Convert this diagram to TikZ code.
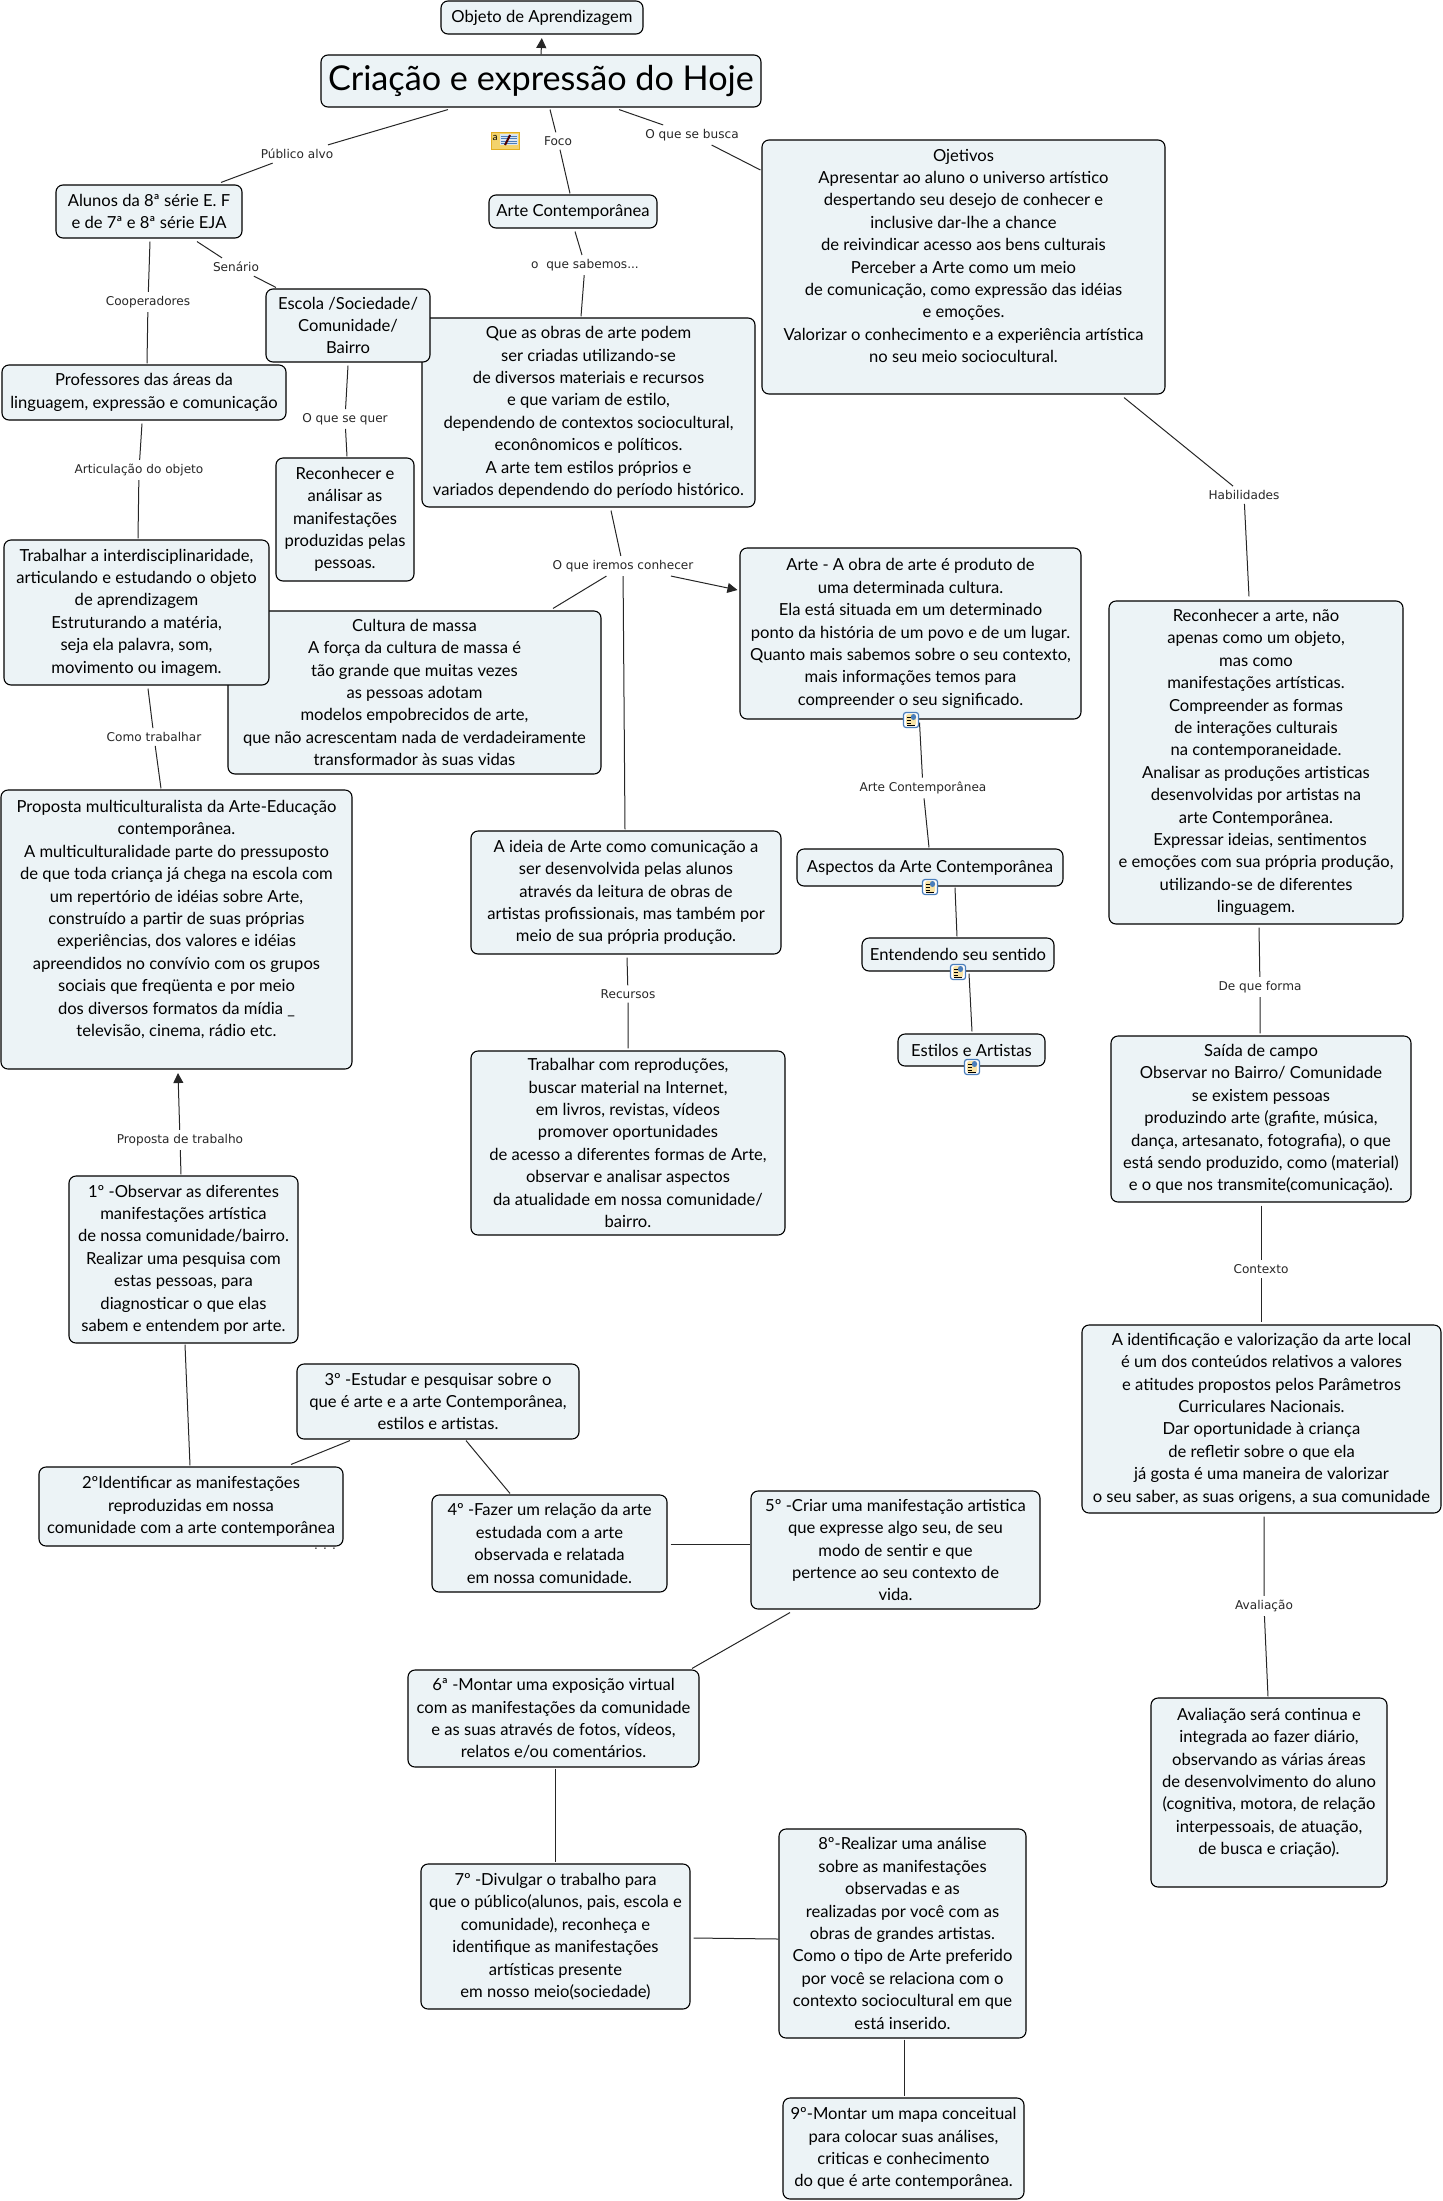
\documentclass[tikz,border=0pt]{standalone}
\usepackage{fontspec}
\setmainfont{Lato}
\newfontfamily\labelfont{DejaVu Sans}
\usepackage{xcolor}
\definecolor{boxfill}{HTML}{ECF3F6}
\definecolor{linegrey}{HTML}{262626}
\definecolor{iconblue}{HTML}{4A7EBB}
\definecolor{iconyellow}{HTML}{F3D36B}
\definecolor{icongold}{HTML}{E2AE22}
\usetikzlibrary{arrows.meta,positioning}

\begin{document}
\begin{tikzpicture}[
  x=1pt, y=-1pt,
  box/.style={draw=black, fill=boxfill, line width=1.1pt, rounded corners=7pt, align=center,
    inner sep=0pt, font=\fontsize{16.6}{22.4}\selectfont},
  lbl/.style={font=\labelfont\fontsize{12.1}{14}\selectfont, text=black!85, inner sep=2.5pt, inner ysep=4pt},
  lnk/.style={draw=linegrey, line width=1pt},
  arr/.style={lnk, -{Triangle[length=10pt, width=10pt]}},
  attach/.style={draw=iconblue, fill=white, line width=1.2pt, rounded corners=2.5pt,
    minimum width=15pt, minimum height=15pt, inner sep=0pt,
    path picture={
      \fill[iconyellow!60] ([shift={(-5,-6)}]path picture bounding box.center) rectangle ++(10,12);
      \foreach \k in {-3,0,3} {
        \draw[black, line width=0.9pt] ([shift={(-4,\k)}]path picture bounding box.center) -- ++(3.5,0);
      }
      \draw[black, line width=0.9pt] ([shift={(-4,5)}]path picture bounding box.center) -- ++(8,0);
      \fill[iconblue] ([shift={(0,-6)}]path picture bounding box.center) rectangle ++(5,6);
    }},
  note/.style={draw=icongold, fill=iconyellow, line width=1pt, minimum width=28pt, minimum height=17pt, inner sep=0pt,
    path picture={
      \fill[white!80!iconblue] ([shift={(-5,-7)}]path picture bounding box.center) rectangle ++(18,11);
      \foreach \k in {-5,-2.5,0,2.5} {
        \draw[iconblue, line width=0.7pt] ([shift={(-4,\k)}]path picture bounding box.center) -- ++(16,0);
      }
      \draw[black!70!red, line width=2pt] ([shift={(0,4)}]path picture bounding box.center) -- ++(5,-10);
    }}
]
\useasboundingbox (0,0) rectangle (1443,2201);

% Top of the map
\node[box, minimum width=202pt, minimum height=33pt] (objeto) at (542,17.5) {Objeto de Aprendizagem};
\node[box, minimum width=440pt, minimum height=52pt, font=\fontsize{34.2}{40}\selectfont] (titulo) at (541,81) {Criação e expressão do Hoje};
\node[note] (nota) at (505,141) {};
\node[font=\fontsize{10}{10}\selectfont, inner sep=0pt] (notaletra) at (495,138) {a};
\draw[arr, shorten >=3.5pt] (titulo.north) -- (objeto.south);

% Left column
\node[box, minimum width=186pt, minimum height=53pt] (alunos) at (149,211.5) {Alunos da 8ª série E. F\\e de 7ª e 8ª série EJA};
\node[box, minimum width=284pt, minimum height=55pt] (professores) at (144,392.5) {Professores das áreas da\\linguagem, expressão e comunicação};
\node[box, minimum width=333pt, minimum height=189pt] (obras) at (588.5,412.5) {Que as obras de arte podem\\ser criadas utilizando-se\\de diversos materiais e recursos\\e que variam de estilo,\\dependendo de contextos sociocultural,\\econônomicos e políticos.\\A arte tem estilos próprios e\\variados dependendo do período histórico.};
\node[box, minimum width=164pt, minimum height=73pt] (escola) at (348,325.5) {Escola /Sociedade/\\Comunidade/\\Bairro};
\node[box, minimum width=138pt, minimum height=123pt] (reconhecer) at (345,519.5) {Reconhecer e\\análisar as\\manifestações\\produzidas pelas\\pessoas.};
\node[box, minimum width=373pt, minimum height=163pt] (cultura) at (414.5,692.5) {Cultura de massa\\A força da cultura de massa é\\tão grande que muitas vezes\\as pessoas adotam\\modelos empobrecidos de arte,\\que não acrescentam nada de verdadeiramente\\transformador às suas vidas};
\node[box, minimum width=265pt, minimum height=145pt] (interdisc) at (136.5,612.5) {Trabalhar a interdisciplinaridade,\\articulando e estudando o objeto\\de aprendizagem\\Estruturando a matéria,\\seja ela palavra, som,\\movimento ou imagem.};
\node[box, minimum width=351pt, minimum height=279pt] (proposta) at (176.5,929.5) {Proposta multiculturalista da Arte-Educação\\contemporânea.\\A multiculturalidade parte do pressuposto\\de que toda criança já chega na escola com\\um repertório de idéias sobre Arte,\\construído a partir de suas próprias\\experiências, dos valores e idéias\\apreendidos no convívio com os grupos\\sociais que freqüenta e por meio\\dos diversos formatos da mídia \_\\televisão, cinema, rádio etc.\\\mbox{}};

% Middle and right columns
\node[box, minimum width=168pt, minimum height=33pt] (artecont) at (573,211.5) {Arte Contemporânea};
\node[box, minimum width=403pt, minimum height=254pt] (ojetivos) at (963.5,267) {Ojetivos\\Apresentar ao aluno o universo artístico\\despertando seu desejo de conhecer e\\inclusive dar-lhe a chance\\de reivindicar acesso aos bens culturais\\Perceber a Arte como um meio\\de comunicação, como expressão das idéias\\e emoções.\\Valorizar o conhecimento e a experiência artística\\no seu meio sociocultural.\\\mbox{}};
\node[box, minimum width=310pt, minimum height=123pt] (ideia) at (626,892.5) {A ideia de Arte como comunicação a\\ser desenvolvida pelas alunos\\através da leitura de obras de\\artistas profissionais, mas também por\\meio de sua própria produção.};
\node[box, minimum width=314pt, minimum height=184pt] (reproducoes) at (628,1143) {Trabalhar com reproduções,\\buscar material na Internet,\\em livros, revistas, vídeos\\promover oportunidades\\de acesso a diferentes formas de Arte,\\observar e analisar aspectos\\da atualidade em nossa comunidade/\\bairro.};
\node[box, minimum width=341pt, minimum height=171pt] (obra) at (910.5,633.5) {Arte - A obra de arte é produto de\\uma determinada cultura.\\Ela está situada em um determinado\\ponto da história de um povo e de um lugar.\\Quanto mais sabemos sobre o seu contexto,\\mais informações temos para\\compreender o seu significado.};
\node[box, minimum width=266pt, minimum height=37pt] (aspectos) at (930,867.5) {Aspectos da Arte Contemporânea};
\node[box, minimum width=192pt, minimum height=33pt] (sentido) at (958,954.5) {Entendendo seu sentido};
\node[box, minimum width=147pt, minimum height=32pt] (estilos) at (971.5,1050) {Estilos e Artistas};
\node[box, minimum width=294pt, minimum height=323pt] (habil) at (1256,762.5) {Reconhecer a arte, não\\apenas como um objeto,\\mas como\\manifestações artísticas.\\Compreender as formas\\de interações culturais\\na contemporaneidade.\\Analisar as produções artisticas\\desenvolvidas por artistas na\\arte Contemporânea.\\\hspace*{8pt}Expressar ideias, sentimentos\\e emoções com sua própria produção,\\utilizando-se de diferentes\\linguagem.};
\node[box, minimum width=300pt, minimum height=166pt] (saida) at (1261,1119) {Saída de campo\\Observar no Bairro/ Comunidade\\se existem pessoas\\produzindo arte (grafite, música,\\dança, artesanato, fotografia), o que\\está sendo produzido, como (material)\\e o que nos transmite(comunicação).};
\node[box, minimum width=359pt, minimum height=188pt] (identif) at (1261.5,1419) {A identificação e valorização da arte local\\é um dos conteúdos relativos a valores\\e atitudes propostos pelos Parâmetros\\Curriculares Nacionais.\\Dar oportunidade à criança\\de refletir sobre o que ela\\já gosta é uma maneira de valorizar\\o seu saber, as suas origens, a sua comunidade};
\node[box, minimum width=236pt, minimum height=189pt] (avalia) at (1269,1792.5) {Avaliação será continua e\\integrada ao fazer diário,\\observando as várias áreas\\de desenvolvimento do aluno\\(cognitiva, motora, de relação\\interpessoais, de atuação,\\de busca e criação).\\\mbox{}};

% Numbered steps
\node[box, minimum width=229pt, minimum height=167pt] (passoa) at (183.5,1259.5) {1º -Observar as diferentes\\manifestações artística\\de nossa comunidade/bairro.\\Realizar uma pesquisa com\\estas pessoas, para\\diagnosticar o que elas\\sabem e entendem por arte.};
\node[box, minimum width=304pt, minimum height=79pt] (passob) at (191,1506.5) {2ºIdentificar as manifestações\\reproduzidas em nossa\\comunidade com a arte contemporânea};
\node[box, minimum width=282pt, minimum height=75pt] (passoc) at (438,1401.5) {3º -Estudar e pesquisar sobre o\\que é arte e a arte Contemporânea,\\estilos e artistas.};
\node[box, minimum width=235pt, minimum height=97pt] (passod) at (549.5,1543.5) {4º -Fazer um relação da arte\\estudada com a arte\\observada e relatada\\em nossa comunidade.};
\node[box, minimum width=289pt, minimum height=118pt] (passoe) at (895.5,1550) {5º -Criar uma manifestação artistica\\que expresse algo seu, de seu\\modo de sentir e que\\pertence ao seu contexto de\\vida.};
\node[box, minimum width=291pt, minimum height=97pt] (passof) at (553.5,1718.5) {6ª -Montar uma exposição virtual\\com as manifestações da comunidade\\e as suas através de fotos, vídeos,\\relatos e/ou comentários.};
\node[box, minimum width=269pt, minimum height=145pt] (passog) at (555.5,1936.5) {7º -Divulgar o trabalho para\\que o público(alunos, pais, escola e\\comunidade), reconheça e\\identifique as manifestações\\artísticas presente\\em nosso meio(sociedade)};
\node[box, minimum width=247pt, minimum height=209pt] (passoh) at (902.5,1933.5) {8º-Realizar uma análise\\sobre as manifestações\\observadas e as\\realizadas por você com as\\obras de grandes artistas.\\Como o tipo de Arte preferido\\por você se relaciona com o\\contexto sociocultural em que\\está inserido.};
\node[box, minimum width=241pt, minimum height=101pt] (passoi) at (903.5,2148.5) {9º-Montar um mapa conceitual\\para colocar suas análises,\\criticas e conhecimento\\do que é arte contemporânea.};
\node[lbl, anchor=base, inner sep=0pt] (reticencias) at (325,1549) {. . .};

% Link labels
\node[lbl] (publico) at (297,154) {Público alvo};
\node[lbl] (foco) at (558,141) {Foco};
\node[lbl] (busca) at (692,135) {O que se busca};
\node[lbl] (cooperadores) at (148,302) {Cooperadores};
\node[lbl] (senario) at (236,267) {Senário};
\node[lbl] (sabemos) at (585,265) {o\ \ que sabemos...};
\node[lbl] (quer) at (345,419) {O que se quer};
\node[lbl] (articulacao) at (139,470) {Articulação do objeto};
\node[lbl] (como) at (154,737) {Como trabalhar};
\node[lbl] (iremos) at (623,566) {O que iremos conhecer};
\node[lbl] (recursos) at (628,994) {Recursos};
\node[lbl] (lblarte) at (923,788) {Arte Contemporânea};
\node[lbl] (habilidades) at (1244,495) {Habilidades};
\node[lbl] (forma) at (1260,987) {De que forma};
\node[lbl] (contexto) at (1261,1269) {Contexto};
\node[lbl] (avaliacao) at (1264,1606) {Avaliação};
\node[lbl] (trabalho) at (180,1140) {Proposta de trabalho};

% Links with a label
\draw[lnk] ([shift={(-93,2)}]titulo.south) -- (publico) -- ([shift={(72,-2)}]alunos.north);
\draw[lnk] ([shift={(9,2)}]titulo.south) -- (foco) -- ([shift={(-3,-1)}]artecont.north);
\draw[lnk] ([shift={(78,2)}]titulo.south) -- (busca) -- ([shift={(-1,-97)}]ojetivos.west);
\draw[lnk] ([shift={(1,3)}]alunos.south) -- (cooperadores) -- ([shift={(3,-1)}]professores.north);
\draw[lnk] ([shift={(48,3)}]alunos.south) -- (senario) -- ([shift={(-72,-1)}]escola.north);
\draw[lnk] ([shift={(2,3)}]artecont.south) -- (sabemos) -- ([shift={(-7.5,-1)}]obras.north);
\draw[lnk] ([shift={(0,3)}]escola.south) -- (quer) -- ([shift={(2,-1)}]reconhecer.north);
\draw[lnk] ([shift={(-2,3)}]professores.south) -- (articulacao) -- ([shift={(1.5,-1)}]interdisc.north);
\draw[lnk] ([shift={(11.5,3)}]interdisc.south) -- (como) -- ([shift={(-15.5,-1)}]proposta.north);
\draw[lnk] ([shift={(22.5,3)}]obras.south) -- (iremos);
\draw[lnk] (iremos) -- ([shift={(138.5,-2)}]cultura.north);
\draw[lnk] (iremos) -- ([shift={(-1,-1)}]ideia.north);
\draw[arr] (iremos) -- ([shift={(-2,-43.5)}]obra.west);
\draw[lnk] ([shift={(1,3)}]ideia.south) -- (recursos) -- ([shift={(0,-2)}]reproducoes.north);
\draw[lnk] ([shift={(9,3)}]obra.south) -- (lblarte) -- ([shift={(-1,-1)}]aspectos.north);
\draw[lnk] ([shift={(160.5,3)}]ojetivos.south) -- (habilidades) -- ([shift={(-7,-4)}]habil.north);
\draw[lnk] ([shift={(3,3)}]habil.south) -- (forma) -- ([shift={(-1,-2)}]saida.north);
\draw[lnk] ([shift={(0,3)}]saida.south) -- (contexto) -- ([shift={(-.5,-2)}]identif.north);
\draw[lnk] ([shift={(2.5,3)}]identif.south) -- (avaliacao) -- ([shift={(-1,-1)}]avalia.north);
\draw[lnk] ([shift={(-2.5,-1)}]passoa.north) -- (trabalho);
\draw[arr] (trabalho) -- ([shift={(1.5,3.5)}]proposta.south);

% Links without a label
\draw[lnk] ([shift={(25,1)}]aspectos.south) -- ([shift={(-1,-1)}]sentido.north);
\draw[lnk] ([shift={(11,2)}]sentido.south) -- ([shift={(.5,-2)}]estilos.north);
\draw[lnk] ([shift={(1.5,1)}]passoa.south) -- ([shift={(-1,-1)}]passob.north);
\draw[lnk] ([shift={(-88,1)}]passoc.south) -- ([shift={(100,-2)}]passob.north);
\draw[lnk] ([shift={(28,1)}]passoc.south) -- ([shift={(-39.5,-1)}]passod.north);
\draw[lnk] ([shift={(3,.5)}]passod.east) -- ([shift={(0,-6)}]passoe.west);
\draw[lnk] ([shift={(-105.5,3)}]passoe.south) -- ([shift={(138.5,-1)}]passof.north);
\draw[lnk] ([shift={(1.5,1)}]passof.south) -- ([shift={(-.5,-1)}]passog.north);
\draw[lnk] ([shift={(3,1.5)}]passog.east) -- ([shift={(0,5.5)}]passoh.west);
\draw[lnk] ([shift={(1.5,1)}]passoh.south) -- ([shift={(.5,-1)}]passoi.north);

% Attachment icons
\node[attach] (iconobra) at (911,720) {};
\node[attach] (iconaspectos) at (930,887) {};
\node[attach] (iconsentido) at (958,972) {};
\node[attach] (iconestilos) at (972,1067) {};

\end{tikzpicture}
\end{document}
